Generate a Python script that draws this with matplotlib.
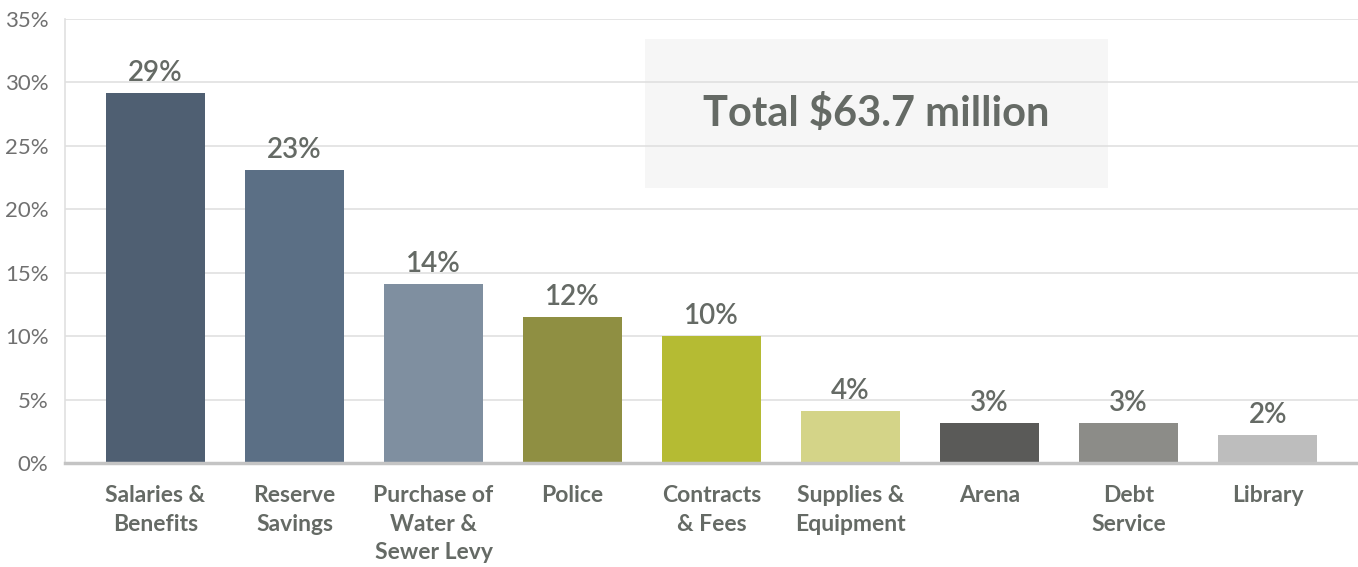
import matplotlib.pyplot as plt
import numpy as np
from matplotlib.patches import Rectangle

plt.rcParams["font.family"] = ["Lato", "DejaVu Sans"]

categories = ["Salaries &\nBenefits", "Reserve\nSavings", "Purchase of\nWater &\nSewer Levy",
              "Police", "Contracts\n& Fees", "Supplies &\nEquipment", "Arena",
              "Debt\nService", "Library"]
shares = [29.2, 23.1, 14.1, 11.5, 10.0, 4.1, 3.2, 3.2, 2.2]
colors = ["#4f5f72", "#5b6f85", "#7f8fa0", "#8f8f42", "#b5bb33",
          "#d4d488", "#5a5a58", "#8c8c88", "#bdbdbd"]
total_label = "Total $63.7 million"
y_ticks = [0, 5, 10, 15, 20, 25, 30, 35]

text_grey = "#656a65"

fig = plt.figure(figsize=(13.58, 5.67), dpi=100)
ax = fig.add_axes([0.048, 0.183, 0.952, 0.7835])

x = np.arange(len(categories))
bars = ax.bar(x, shares, width=0.71, color=colors, zorder=2)

for b, v in zip(bars, shares):
    ax.annotate(f"{v:.0f}%", (b.get_x() + b.get_width() / 2, v),
                xytext=(0, 5), textcoords="offset points",
                ha="center", va="bottom", fontsize=20, fontweight="semibold",
                color=text_grey)

# shaded box with the total
ax.add_patch(Rectangle((0.4486, 0.619), 0.358, 0.3356, transform=ax.transAxes,
                       facecolor="#f6f6f6", edgecolor="none", zorder=0.2))
ax.text(0.627, 0.788, total_label, transform=ax.transAxes, ha="center", va="center",
        fontsize=30, fontweight="bold", color=text_grey, zorder=3)

ax.set_xlim(-0.65, len(categories) - 0.35)
ax.set_ylim(0, 35)
ax.set_yticks(y_ticks)
ax.set_yticklabels([f"{t}%" for t in y_ticks])
ax.set_xticks(x)
ax.set_xticklabels(categories, fontsize=16.5, fontweight="bold", color=text_grey,
                   linespacing=1.42, va="top")

ax.tick_params(axis="y", length=0, pad=12, labelsize=16, labelcolor="#707070")
ax.tick_params(axis="x", length=0, pad=16)
ax.yaxis.grid(True, color="#e0e0e0", linewidth=1.2)
ax.set_axisbelow(True)

for s in ["top", "right"]:
    ax.spines[s].set_visible(False)
ax.spines["left"].set_color("#e0e0e0")
ax.spines["left"].set_linewidth(1.2)
ax.spines["bottom"].set_color("#c4c4c4")
ax.spines["bottom"].set_linewidth(2.5)
ax.spines["bottom"].set_zorder(3)

fig.savefig("out.png", dpi=100, facecolor="white")
